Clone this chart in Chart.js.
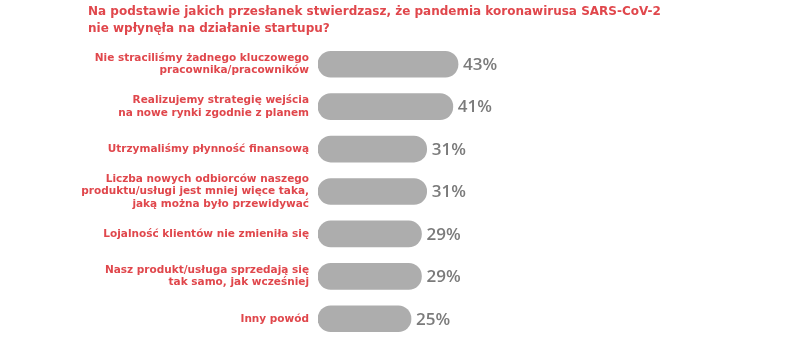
<!DOCTYPE html>
<html>
<head>
<meta charset="utf-8">
<script src="https://cdn.jsdelivr.net/npm/chart.js@4"></script>
<style>
  body { margin: 0; background: #fff; }
  .wrap { position: relative; width: 787px; height: 340px; }
  .title {
    position: absolute; left: 88px; top: 3px;
    font: bold 12px/17px "DejaVu Sans", sans-serif;
    color: #e0474c; white-space: nowrap;
  }
</style>
</head>
<body>
<div class="wrap">
  <canvas id="chart" width="787" height="340"></canvas>
  <div class="title" id="title"></div>
</div>
<script>
// dane z wykresu
const titleLines = [
    'Na podstawie jakich przesłanek stwierdzasz, że pandemia koronawirusa SARS-CoV-2',
    'nie wpłynęła na działanie startupu?'
];
const categories = [
    ['Nie straciliśmy żadnego kluczowego', 'pracownika/pracowników'],
    ['Realizujemy strategię wejścia', 'na nowe rynki zgodnie z planem'],
    'Utrzymaliśmy płynność finansową',
    ['Liczba nowych odbiorców naszego', 'produktu/usługi jest mniej więce taka,', 'jaką można było przewidywać'],
    'Lojalność klientów nie zmieniła się',
    ['Nasz produkt/usługa sprzedają się', 'tak samo, jak wcześniej'],
    'Inny powód'
];
const values = [43, 41, 31, 31, 29, 29, 25];

const RED = '#e0474c';
const GRAY = '#adadad';
const FONT = '"DejaVu Sans", sans-serif';

document.getElementById('title').innerHTML = titleLines.join('<br>');

// etykiety z procentami na końcu słupków
const valueLabels = {
    id: 'valueLabels',
    afterDatasetsDraw(chart) {
        const ctx = chart.ctx;
        const meta = chart.getDatasetMeta(0);
        ctx.save();
        ctx.font = '600 17px "Open Sans", sans-serif';
        ctx.fillStyle = '#7b7b7b';
        ctx.textAlign = 'left';
        ctx.textBaseline = 'middle';
        meta.data.forEach((bar, i) => {
            ctx.fillText(values[i] + '%', bar.x + 5, bar.y + 1);
        });
        ctx.restore();
    }
};

new Chart(document.getElementById('chart'), {
    type: 'bar',
    data: {
        labels: categories,
        datasets: [{
            data: values,
            base: -10.6,
            backgroundColor: GRAY,
            borderRadius: 13,
            borderSkipped: false,
            barThickness: 26
        }]
    },
    options: {
        indexAxis: 'y',
        responsive: false,
        animation: false,
        layout: { padding: { left: 70, right: 180, top: 43, bottom: 0 } },
        plugins: {
            legend: { display: false },
            tooltip: { enabled: false }
        },
        scales: {
            x: {
                display: false,
                min: -10.6,
                max: 100
            },
            y: {
                grid: { display: false, drawTicks: false },
                border: { display: false },
                afterFit(scale) {
                    scale.width = 248;
                    scale.paddingTop = 0;
                    scale.paddingBottom = 0;
                },
                ticks: {
                    color: RED,
                    padding: 9,
                    font: { family: FONT, size: 10.5, weight: 'bold', lineHeight: 1.2 }
                }
            }
        }
    },
    plugins: [valueLabels]
});
</script>
</body>
</html>
